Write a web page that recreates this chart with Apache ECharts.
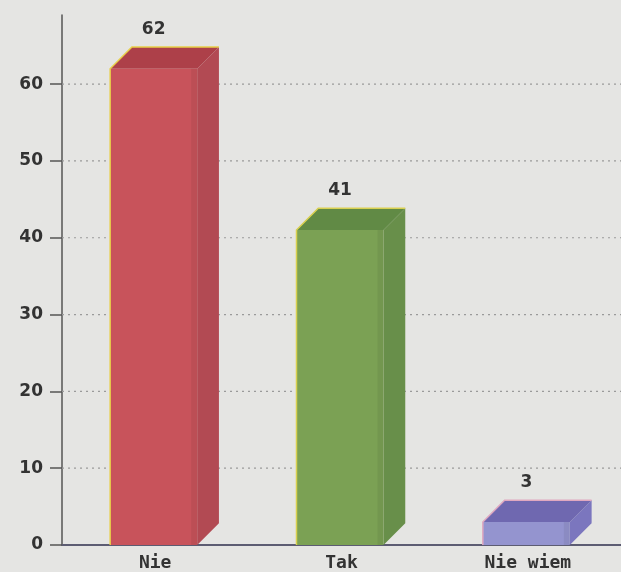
<!DOCTYPE html>
<html><head><meta charset="utf-8">
<script src="https://cdn.jsdelivr.net/npm/echarts@6/dist/echarts.min.js"></script>
<style>html,body{margin:0;padding:0;background:#e5e5e3}#c{width:621px;height:572px}</style>
</head><body><div id="c"></div>
<script>
const categories = ['Nie', 'Tak', 'Nie wiem'];
const values = [62, 41, 3];
const yTicks = [0, 10, 20, 30, 40, 50, 60];
const gridValues = [10, 20, 30, 40, 50, 60];
const frontColors = ['#c8535b', '#7ba154', '#9494cf'];
const topColors = ['#ad4049', '#618a45', '#6f68b0'];
const sideColors = ['#b24a53', '#688f4a', '#7b76be'];
const edgeColors = ['#e8cf48', '#d9d050', '#e0a8c0'];

const chart = echarts.init(document.getElementById('c'), null, {renderer: 'canvas'});
chart.setOption({
  backgroundColor: '#e5e5e3',
  animation: false,
  grid: {left: 62, right: 0, top: 15, bottom: 27, outerBoundsMode: 'none', containLabel: false},
  xAxis: {
    type: 'category', data: categories,
    axisLine: {lineStyle: {color: '#5c5c72', width: 2}},
    axisTick: {show: false},
    axisLabel: {color: '#333', fontFamily: 'DejaVu Sans Mono', fontWeight: 'bold', fontSize: 18, margin: 9}
  },
  yAxis: {
    type: 'value', min: 0, max: 69, interval: 10,
    axisLine: {show: true, lineStyle: {color: '#555', width: 1.5}},
    axisTick: {show: true, length: 12, lineStyle: {color: '#555', width: 1.5}, customValues: yTicks},
    axisLabel: {color: '#333', fontFamily: 'DejaVu Sans', fontWeight: 'bold', fontSize: 17, margin: 19, customValues: yTicks},
    splitLine: {show: false}
  },
  series: [{
    type: 'custom',
    z: 1,
    data: gridValues.map(v => [v]),
    renderItem: function (params, api) {
      const v = api.value(0);
      const p0 = api.coord([0, v]);
      const cs = params.coordSys;
      return {type: 'line', shape: {x1: cs.x, y1: p0[1], x2: cs.x + cs.width, y2: p0[1]},
        style: {stroke: '#9a9a9a', lineWidth: 1.2, lineDash: [2, 4]}};
    }
  }, {
    type: 'custom',
    z: 5,
    data: values.map((v, i) => [i, v]),
    renderItem: function (params, api) {
      const i = api.value(0), v = api.value(1);
      const top = api.coord([i, v]);
      const base = api.coord([i, 0]);
      const band = api.size([1, 0])[0];
      const w = band * 0.467;
      const d = w * 0.25;
      const cx = top[0] - 1.5;
      const l = cx - w / 2, r = cx + w / 2;
      const ty = top[1], by = base[1];
      return {type: 'group', children: [
        {type: 'polygon', shape: {points: [[r, ty], [r + d, ty - d], [r + d, by - d], [r, by]]}, style: {fill: sideColors[i]}},
        {type: 'polygon', shape: {points: [[l, ty], [l + d, ty - d], [r + d, ty - d], [r, ty]]}, style: {fill: topColors[i]}},
        {type: 'rect', shape: {x: l, y: ty, width: w, height: by - ty}, style: {fill: frontColors[i]}},
        {type: 'rect', shape: {x: r - 6, y: ty, width: 6, height: by - ty}, style: {fill: 'rgba(0,0,0,0.06)'}},
        {type: 'polyline', shape: {points: [[l, by], [l, ty], [l + d, ty - d], [r + d, ty - d]]}, style: {stroke: edgeColors[i], lineWidth: 1.5, fill: null}},
        {type: 'text', style: {text: String(v), x: cx, y: ty - d - 9, align: 'center', verticalAlign: 'bottom',
          font: 'bold 17px "DejaVu Sans"', fill: '#333'}}
      ]};
    }
  }]
});
</script></body></html>
